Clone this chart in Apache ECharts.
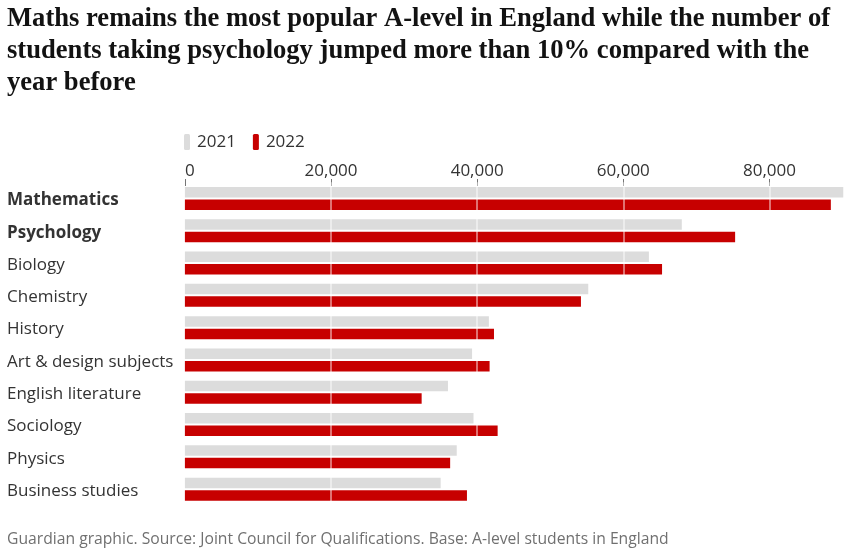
<!DOCTYPE html>
<html>
<head>
<meta charset="utf-8">
<script src="https://cdn.jsdelivr.net/npm/echarts@6/dist/echarts.min.js"></script>
<style>
  html, body { margin: 0; padding: 0; background: #fff; }
  #chart { width: 856px; height: 549px; }
</style>
</head>
<body>
<div id="chart"></div>
<script>
const subjects = ['Mathematics', 'Psychology', 'Biology', 'Chemistry', 'History',
  'Art & design subjects', 'English literature', 'Sociology', 'Physics', 'Business studies']
const boldSubjects = ['Mathematics', 'Psychology']
const entries2021 = [90100, 68000, 63500, 55200, 41600, 39300, 36000, 39500, 37200, 35000]
const entries2022 = [88400, 75300, 65300, 54200, 42300, 41700, 32400, 42800, 36300, 38600]
const tickValues = [0, 20000, 40000, 60000, 80000]
const gridValues = [20000, 40000, 60000, 80000]

const sans = '"Open Sans", sans-serif'
const chart = echarts.init(document.getElementById('chart'))

chart.setOption({
  animation: false,
  title: [
    {
      text: 'Maths remains the most popular A-level in England while the number of\nstudents taking psychology jumped more than 10% compared with the\nyear before',
      left: 7,
      top: 3,
      padding: 0,
      textStyle: {
        fontFamily: '"Liberation Serif", serif',
        fontWeight: 'bold',
        fontSize: 26.6,
        lineHeight: 32,
        color: '#121212',
      },
    },
    {
      text: 'Guardian graphic. Source: Joint Council for Qualifications. Base: A-level students in England',
      left: 7,
      top: 532,
      padding: 0,
      textStyle: {
        fontFamily: sans,
        fontWeight: 'normal',
        fontSize: 15.7,
        color: '#707070',
      },
    },
  ],
  legend: {
    left: 184,
    top: 133.5,
    padding: 0,
    icon: 'roundRect',
    itemWidth: 6,
    itemHeight: 16,
    itemGap: 17,
    textStyle: { fontFamily: sans, fontSize: 17, color: '#333', padding: [0, 0, 0, 2] },
    data: ['2021', '2022'],
  },
  grid: {
    left: 184.9,
    right: 12,
    top: 182.3,
    height: 323,
    containLabel: false,
  },
  xAxis: {
    type: 'value',
    position: 'top',
    min: 0,
    max: 90200,
    offset: -3.7,
    axisLine: { show: false },
    splitLine: { show: false },
    axisTick: {
      show: true,
      length: 7,
      customValues: tickValues,
      lineStyle: { color: '#767676', width: 1 },
    },
    axisLabel: {
      customValues: tickValues,
      margin: 6.5,
      alignMinLabel: 'left',
      fontFamily: sans,
      fontSize: 17,
      color: '#333',
      formatter: v => v.toLocaleString('en-GB'),
    },
  },
  yAxis: {
    type: 'category',
    inverse: true,
    data: subjects,
    axisLine: { show: false },
    axisTick: { show: false },
    axisLabel: {
      align: 'left',
      margin: 177.9,
      padding: [4, 0, 0, 0],
      fontFamily: sans,
      fontSize: 17,
      color: '#333',
      formatter: v => boldSubjects.includes(v) ? `{b|${v}}` : v,
      rich: {
        b: { fontFamily: sans, fontSize: 17, fontWeight: 'bold', color: '#333' },
      },
    },
  },
  series: [
    {
      name: '2021',
      type: 'bar',
      data: entries2021,
      barWidth: 10.5,
      barGap: '19%',
      itemStyle: { color: '#dcdcdc' },
    },
    {
      name: '2022',
      type: 'bar',
      data: entries2022,
      barWidth: 10.5,
      itemStyle: { color: '#c70000' },
      markLine: {
        silent: true,
        symbol: 'none',
        label: { show: false },
        z: 10,
        lineStyle: { color: 'rgba(255,255,255,0.6)', type: 'solid', width: 1.5 },
        data: gridValues.map(v => ({ xAxis: v })),
      },
    },
  ],
})
</script>
</body>
</html>
